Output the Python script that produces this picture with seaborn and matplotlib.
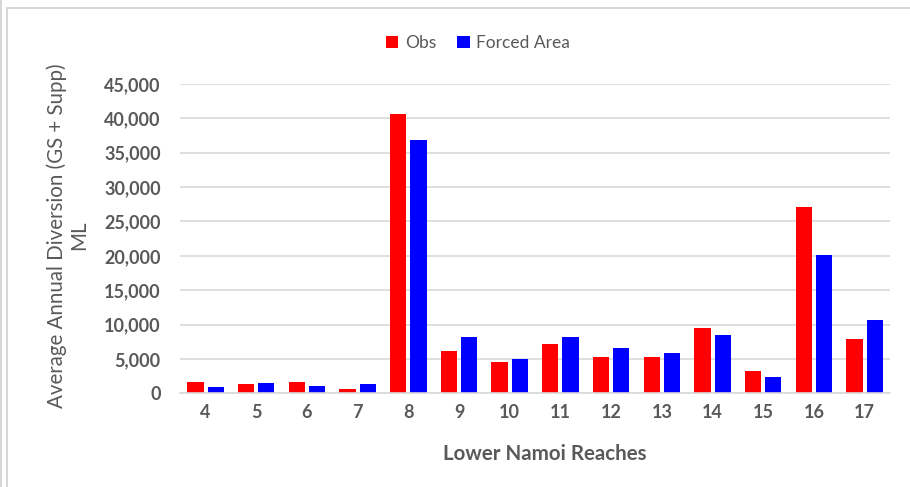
import matplotlib
matplotlib.use("Agg")
import matplotlib.pyplot as plt
import seaborn as sns
import pandas as pd
from matplotlib.ticker import FuncFormatter
from matplotlib.patches import Rectangle
from matplotlib.lines import Line2D

reaches = ["4", "5", "6", "7", "8", "9", "10", "11", "12", "13", "14", "15", "16", "17"]
obs = [1650, 1310, 1650, 580, 40700, 6160, 4600, 7220, 5330, 5330, 9500, 3200, 27100, 7860]
forced_area = [870, 1500, 1060, 1350, 36900, 8150, 5040, 8150, 6590, 5820, 8440, 2370, 20130, 10620]
series_names = ["Obs", "Forced Area"]
colors = ["#ff0000", "#0000ff"]

df = pd.DataFrame({
    "Reach": reaches * 2,
    "Value": obs + forced_area,
    "Series": [series_names[0]] * len(reaches) + [series_names[1]] * len(reaches),
})

sns.set_style("white")
plt.rcParams["font.family"] = ["Lato", "DejaVu Sans"]

fig = plt.figure(figsize=(9.1, 4.87), dpi=100)
ax = fig.add_axes([0.198, 0.1924, 0.780, 0.6351])

sns.barplot(data=df, x="Reach", y="Value", hue="Series", order=reaches,
            hue_order=series_names, palette=colors, width=0.8, gap=0.2,
            ax=ax, legend=True, saturation=1, edgecolor="none")

ax.set_ylim(0, 45000)
ax.set_yticks(range(0, 45001, 5000))
ax.yaxis.set_major_formatter(FuncFormatter(lambda v, p: f"{int(v):,}"))
ax.grid(axis="y", color="#d9d9d9", linewidth=1.2)
ax.set_axisbelow(True)
for s in ["top", "right", "left"]:
    ax.spines[s].set_visible(False)
ax.spines["bottom"].set_color("#d9d9d9")
ax.spines["bottom"].set_linewidth(1.2)
ax.tick_params(axis="y", length=0, labelsize=13, labelcolor="#595959", pad=14)
ax.tick_params(axis="x", length=0, labelsize=13, labelcolor="#595959", pad=8)
for lbl in ax.get_xticklabels() + ax.get_yticklabels():
    lbl.set_fontweight("bold")

ax.set_xlabel("Lower Namoi Reaches", fontsize=14.8, fontweight="bold", color="#595959")
ax.xaxis.set_label_coords(0.513, -0.164)
ax.set_ylabel("Average Annual Diversion (GS + Supp)\nML", fontsize=14.8, color="#595959",
              linespacing=1.15)
ax.yaxis.set_label_coords(-0.128, 0.51)

leg = ax.legend(loc="upper center", bbox_to_anchor=(0.42, 1.21), ncol=2, frameon=False,
                fontsize=12.5, handlelength=0.7, handleheight=0.7, columnspacing=1.2,
                handletextpad=0.4)
for t in leg.get_texts():
    t.set_color("#595959")

fig.patches.append(Rectangle((0.008, -0.1), 1.2, 1.083, transform=fig.transFigure,
                             fill=False, edgecolor="#d0d0d0", linewidth=1.2))
fig.lines.append(Line2D([0.0015, 0.0015], [0, 1], transform=fig.transFigure,
                        color="#d0d0d0", linewidth=1.2))

fig.savefig("out.png", dpi=100)
